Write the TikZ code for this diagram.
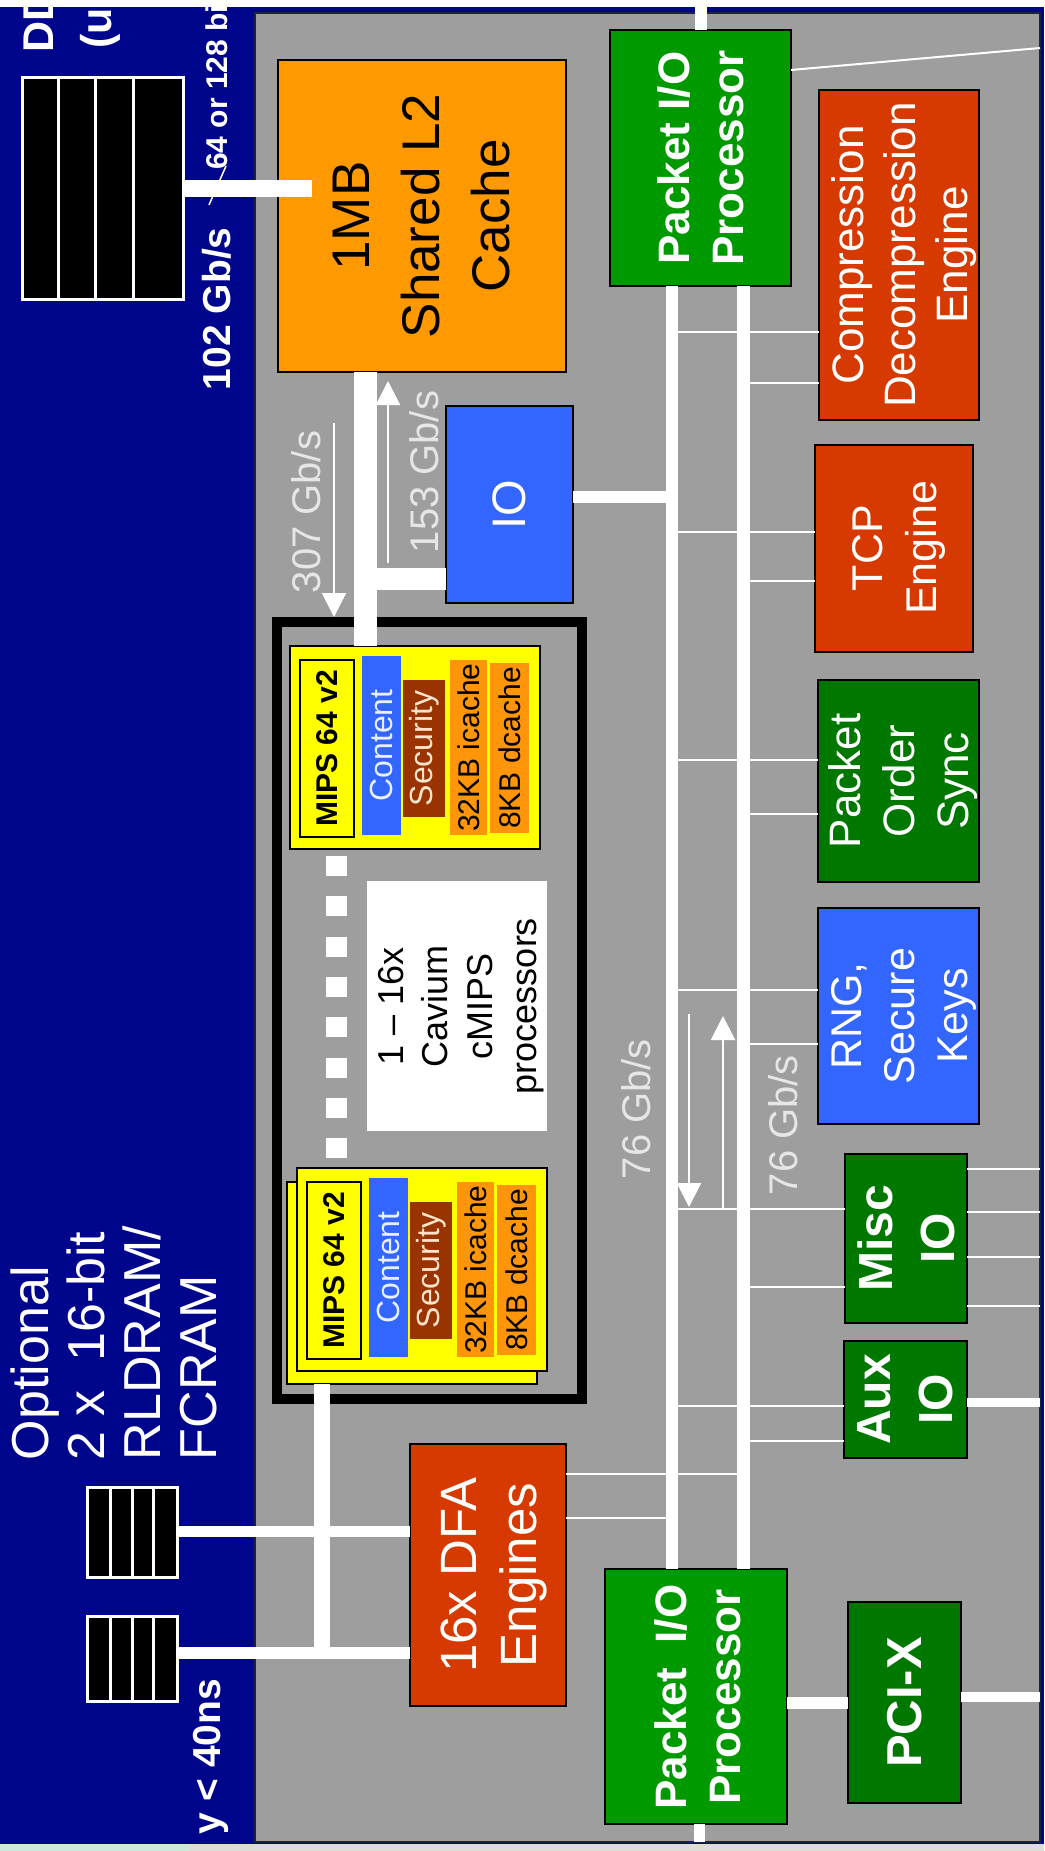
\documentclass[tikz,border=0pt]{standalone}
\usepackage{fontspec}
\setmainfont{Liberation Sans}
\usetikzlibrary{arrows.meta}
\definecolor{navy}{RGB}{0,6,140}
\definecolor{chipg}{RGB}{158,158,158}
\definecolor{chipb}{RGB}{30,30,70}
\definecolor{l2or}{RGB}{255,153,0}
\definecolor{pgreen}{RGB}{0,153,0}
\definecolor{dgreen}{RGB}{0,120,0}
\definecolor{ered}{RGB}{214,58,0}
\definecolor{iblue}{RGB}{51,102,255}
\definecolor{myel}{RGB}{255,255,0}
\definecolor{secbr}{RGB}{153,51,0}
\definecolor{cacor}{RGB}{255,150,10}
\definecolor{lblc}{RGB}{230,230,230}
\definecolor{bstrip}{RGB}{222,220,214}
\definecolor{mstrip}{RGB}{205,232,218}
\definecolor{conttxt}{RGB}{232,240,255}
\definecolor{sectxt}{RGB}{255,228,205}
\newcommand\myfs[2]{\fontsize{#1}{#2}\selectfont}
% #1 name, #2 style, #3 x1, #4 y1, #5 x2, #6 y2
\newcommand\mybox[6]{\node[box,#2,minimum width={(#5)-(#3)},minimum height={(#6)-(#4)}] (#1) at ({((#3)+(#5))/2},{((#4)+(#6))/2}) {};}
\newcommand\mcard[3]{%
\begin{scope}[shift={(#2,#3)}]
\mybox{#1c}{fill=myel,line width=1.5pt}{0}{0}{250}{203}
\mybox{#1m}{fill=myel,line width=1.5pt}{10}{14}{64}{191}
\mybox{#1ct}{fill=iblue,draw=none}{72}{10}{111}{189}
\mybox{#1s}{fill=secbr,draw=none}{113}{34}{155}{171}
\mybox{#1i}{fill=cacor,draw=none}{160}{14}{197}{189}
\mybox{#1d}{fill=cacor,draw=none}{200}{17}{239}{187}
\node[rt,text=black,font=\myfs{30}{36}\bfseries] (#1mt) at (#1m) {MIPS 64 v2};
\node[rt,text=conttxt,font=\myfs{32}{38}] (#1ctt) at (#1ct) {Content};
\node[rt,text=sectxt,font=\myfs{32}{38}] (#1st) at (#1s) {Security};
\node[rt,text=black,font=\myfs{30}{36}] (#1it) at (#1i) {32KB icache};
\node[rt,text=black,font=\myfs{30}{36}] (#1dt) at (#1d) {8KB dcache};
\end{scope}}
\begin{document}
\begin{tikzpicture}[x=1pt,y=-1pt,
 box/.style={rectangle,draw=black,line width=2pt,inner sep=0pt,outer sep=0pt},
 rt/.style={rotate=90,inner sep=0pt,outer sep=0pt,align=center},
 wbus/.style={draw=white,line width=#1},
 thinw/.style={draw=white,line width=2pt},
 arr/.style={draw=white,line width=2pt,-{Triangle[width=24pt,length=24pt]}},
 lbl/.style={rt,text=lblc,font=\myfs{40}{48}}]
\useasboundingbox (0,0) rectangle (1044,1851);
\clip (0,0) rectangle (1044,1851);
% background
\fill[white] (0,0) rectangle (1044,7);
\fill[navy] (0,7) rectangle (1044,1844);
\fill[bstrip] (0,1844) rectangle (1044,1851);
\fill[mstrip] (0,1844) rectangle (190,1851);
% chip
\mybox{chip}{fill=chipg,draw=chipb,line width=2pt}{255}{13}{1040}{1842}
% blocks
\mybox{l2}{fill=l2or}{278}{60}{566}{372}
\mybox{ddr}{fill=black,draw=white,line width=3pt}{22}{78}{183}{300}
\mybox{pioT}{fill=pgreen}{610}{30}{791}{286}
\mybox{comp}{fill=ered}{819}{90}{979}{420}
\mybox{tcp}{fill=ered}{815}{445}{973}{652}
\mybox{io}{fill=iblue}{446}{406}{573}{603}
\mybox{pos}{fill=dgreen}{818}{680}{979}{882}
\mybox{rng}{fill=iblue}{818}{908}{979}{1124}
\mybox{misc}{fill=dgreen}{845}{1154}{967}{1323}
\mybox{aux}{fill=dgreen}{844}{1341}{967}{1458}
\mybox{dfa}{fill=ered}{410}{1444}{566}{1706}
\mybox{pioB}{fill=pgreen}{605}{1569}{787}{1824}
\mybox{pci}{fill=dgreen}{848}{1602}{961}{1803}
\mybox{rl1}{fill=black,draw=white,line width=3pt}{87}{1487}{177}{1577}
\mybox{rl2}{fill=black,draw=white,line width=3pt}{87}{1616}{177}{1701}
% processor cluster
\mybox{clu}{draw=black,line width=10pt}{277}{622}{582}{1399}
\mybox{lab}{fill=white,draw=none}{367}{881}{547}{1131}
\mcard{ca}{290}{646}
\mybox{bk}{fill=myel,line width=1.5pt}{287}{1182}{537}{1384}
\mcard{cb}{297}{1168}
\foreach \i in {0,...,7} \fill[white] (326,{856+40.3*\i}) rectangle ++(21,20);
% memory compartments
\foreach \x in {58,95,133} \draw[white,line width=3pt] (\x,0 |- ddr.north) -- (\x,0 |- ddr.south);
\foreach \x in {110,132,153} {
  \draw[white,line width=3pt] (\x,0 |- rl1.north) -- (\x,0 |- rl1.south);
  \draw[white,line width=3pt] (\x,0 |- rl2.north) -- (\x,0 |- rl2.south);}
% bus coordinates
\coordinate (bA) at (672,0);
\coordinate (bB) at (743.5,0);
\coordinate (topin) at (701,0);
\coordinate (l2in) at (312,188.5);
\coordinate (rlend) at (321.5,1659);
% thin connectors
\foreach \n/\ya/\yb in {comp/332/383,tcp/532/581,pos/760/814,rng/990/1044,misc/1209/1287,aux/1406/1441} {
  \draw[thinw] (bA |- 0,\ya) -- (\n.west |- 0,\ya);
  \draw[thinw] (bB |- 0,\yb) -- (\n.west |- 0,\yb);}
\draw[thinw] (dfa.east |- 0,1474) -- (bB |- 0,1474);
\draw[thinw] (dfa.east |- 0,1518) -- (bA |- 0,1518);
\foreach \y in {1169,1212,1257,1306} \draw[thinw] (misc.east |- 0,\y) -- (chip.east |- 0,\y);
\draw[thinw] (pioT.east |- 0,70) -- (chip.east |- 0,48);
% buses
\draw[wbus=12pt] (pioT.south -| bA) -- (pioB.north -| bA);
\draw[wbus=13pt] (pioT.south -| bB) -- (pioB.north -| bB);
\draw[wbus=12pt] (topin) -- (pioT.north -| topin);
\draw[wbus=11pt] (pioB.south -| 699.5,0) -- (chip.south -| 699.5,0);
\draw[wbus=12pt] (io.east |- 0,497) -- (bA |- 0,497);
\draw[wbus=9pt] (aux.east |- 0,1402.5) -- (chip.east |- 0,1402.5);
\draw[wbus=12pt] (pioB.east |- 0,1703) -- (pci.west |- 0,1703);
\draw[wbus=10pt] (pci.east |- 0,1697) -- (chip.east |- 0,1697);
\draw[wbus=17pt] (ddr.east |- l2in) -- (l2in);
\draw[wbus=23pt] (l2.south -| 365.5,0) -- (cac.north -| 365.5,0);
\draw[wbus=22pt] (365.5,579) -- (io.west |- 0,579);
\draw[wbus=11pt] (rl1.east |- 0,1531.5) -- (dfa.west |- 0,1531.5);
\draw[wbus=12pt] (rl2.east |- 0,1653) -- (dfa.west |- 0,1653);
\draw[wbus=16pt] (bk.south -| rlend) -- (rlend);
\draw[white,line width=1.5pt] (209,205) -- (226,166);
% arrows
\coordinate (a307s) at (334,423); \coordinate (a307e) at (334,617);
\coordinate (a153s) at (388,563); \coordinate (a153e) at (388,381);
\coordinate (a76ds) at (689,1014); \coordinate (a76de) at (689,1207);
\coordinate (a76us) at (723,1208); \coordinate (a76ue) at (723,1016);
\draw[arr] (a307s) -- (a307e);
\draw[arr] (a153s) -- (a153e);
\draw[arr] (a76ds) -- (a76de);
\draw[arr] (a76us) -- (a76ue);
% block texts
\node[rt,text=black,font=\myfs{53}{70}] (l2t) at (l2) {1MB\\Shared L2\\Cache};
\node[rt,text=white,font=\myfs{44}{54}\bfseries] (pioTt) at (pioT) {Packet I/O\\Processor};
\node[rt,text=white,font=\myfs{44}{52}] (compt) at (904,255) {Compression\\Decompression\\Engine};
\node[rt,text=white,font=\myfs{43}{54}] (tcpt) at (899,548) {TCP\\Engine};
\node[rt,text=white,font=\myfs{47}{56}] (iot) at (io) {IO};
\node[rt,text=white,font=\myfs{44}{54}] (post) at (903,781) {Packet\\Order\\Sync};
\node[rt,text=white,font=\myfs{43}{53}] (rngt) at (904,1016) {RNG,\\Secure\\Keys};
\node[rt,text=white,font=\myfs{48}{62}\bfseries] (misct) at (misc) {Misc\\IO};
\node[rt,text=white,font=\myfs{48}{62}\bfseries] (auxt) at (aux) {Aux\\IO};
\node[rt,text=white,font=\myfs{51}{60}] (dfat) at (494,1575) {16x DFA\\Engines};
\node[rt,text=white,font=\myfs{44}{54}\bfseries] (pioBt) at (698,1697) {Packet\ \ I/O\\Processor};
\node[rt,text=white,font=\myfs{49}{58}\bfseries] (pcit) at (pci) {PCI-X};
\node[rt,text=black,font=\myfs{36}{44.5}] (labt) at (461,1006) {1 – 16x\\Cavium\\cMIPS\\processors};
% rate labels
\node[lbl,anchor=base] (t307) at (320,512) {307 Gb/s};
\node[lbl,anchor=base] (t153) at (438,472) {153 Gb/s};
\node[lbl,anchor=base] (t76a) at (650,1109) {76 Gb/s};
\node[lbl,anchor=base] (t76b) at (797,1125) {76 Gb/s};
% outside texts
\node[rt,text=white,font=\myfs{43}{50}\bfseries,anchor=base west] (tdd) at (53,53) {DD};
\node[rt,text=white,font=\myfs{43}{50}\bfseries,anchor=base west] (tdu) at (111,49) {(u};
\node[rt,text=white,font=\myfs{39}{46}\bfseries,anchor=base west] (t102) at (230,390) {102 Gb/s};
\node[rt,text=white,font=\myfs{30}{36}\bfseries,anchor=base west] (t64) at (227,170) {64 or 128 bit};
\node[rt,text=white,font=\myfs{39}{46}\bfseries,anchor=base east] (tlat) at (220,1679) {y < 40ns};
\node[rt,align=left,text=white,font=\myfs{52}{56},anchor=north west] (trl) at (11,1460) {Optional\\2 x\ \ 16-bit\\RLDRAM/\\FCRAM};
\end{tikzpicture}
\end{document}
